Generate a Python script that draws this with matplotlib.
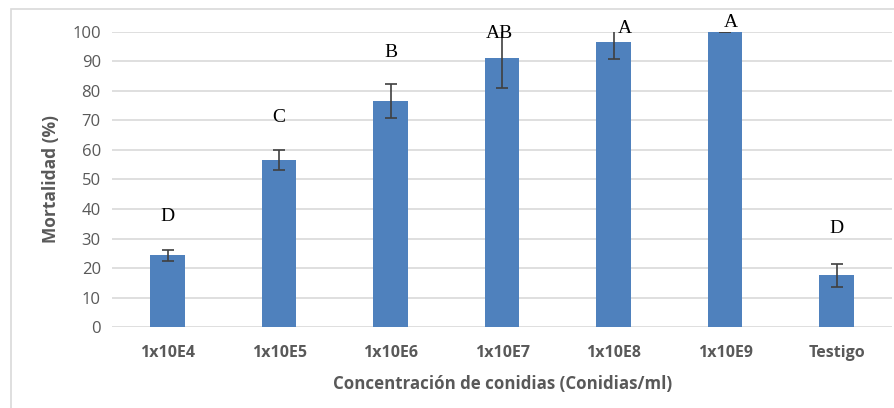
import numpy as np
import matplotlib.pyplot as plt
from matplotlib.patches import Rectangle

categorias = ["1x10E4", "1x10E5", "1x10E6", "1x10E7", "1x10E8", "1x10E9", "Testigo"]
mortalidad = [24.3, 56.5, 76.5, 91.1, 96.6, 100.0, 17.5]
error = [1.9, 3.4, 5.8, 10.2, 5.8, 0.0, 4.0]
letras = ["D", "C", "B", "AB", "A", "A", "D"]
pos_letras = [37.5, 71.0, 93.0, 99.5, 101.3, 103.3, 33.5]
desplaz_letras = [0, 0, 0, -0.02, 0.1, 0.05, 0]

plt.rcParams['font.family'] = ['Open Sans', 'DejaVu Sans']

fig = plt.figure(figsize=(8.95, 4.08), dpi=100)
ax = fig.add_axes([0.125, 0.1985, 0.872, 0.7231])

# marco exterior del grafico
fig.patches.append(Rectangle((11 / 895, -0.2), 1.2, 1.2 - 9 / 408,
                             transform=fig.transFigure, fill=False,
                             edgecolor="#d9d9d9", linewidth=1.2))

x = np.arange(len(categorias))
ax.bar(x, mortalidad, width=0.31, color="#4f81bd", zorder=2)
ax.errorbar(x, mortalidad, yerr=error, fmt="none", ecolor="#404040",
            elinewidth=1.2, capsize=4, capthick=1.2, zorder=3)

for xi, l, p, d in zip(x, letras, pos_letras, desplaz_letras):
    ax.text(xi + d, p, l, ha="center", va="center", fontsize=14,
            family="Liberation Serif", color="black", clip_on=False, zorder=4)

ax.set_xlim(-0.5, len(categorias) - 0.5)
ax.set_ylim(0, 100)
ax.set_yticks(np.arange(0, 101, 10))
ax.yaxis.grid(True, color="#d9d9d9", linewidth=1.2, zorder=0)
ax.set_axisbelow(True)
for s in ax.spines.values():
    s.set_visible(False)
ax.tick_params(axis="both", length=0, colors="#595959")
ax.tick_params(axis="y", labelsize=12, pad=8)
ax.tick_params(axis="x", labelsize=11.5, pad=13)
ax.set_xticks(x)
ax.set_xticklabels(categorias, fontweight="bold")

ax.set_ylabel("Mortalidad (%)", fontsize=12.5, fontweight="bold", color="#595959", labelpad=9)
ax.set_xlabel("Concentración de conidias (Conidias/ml)", fontsize=12.2,
              fontweight="bold", color="#595959", labelpad=10)

fig.savefig("out.png", dpi=100)
